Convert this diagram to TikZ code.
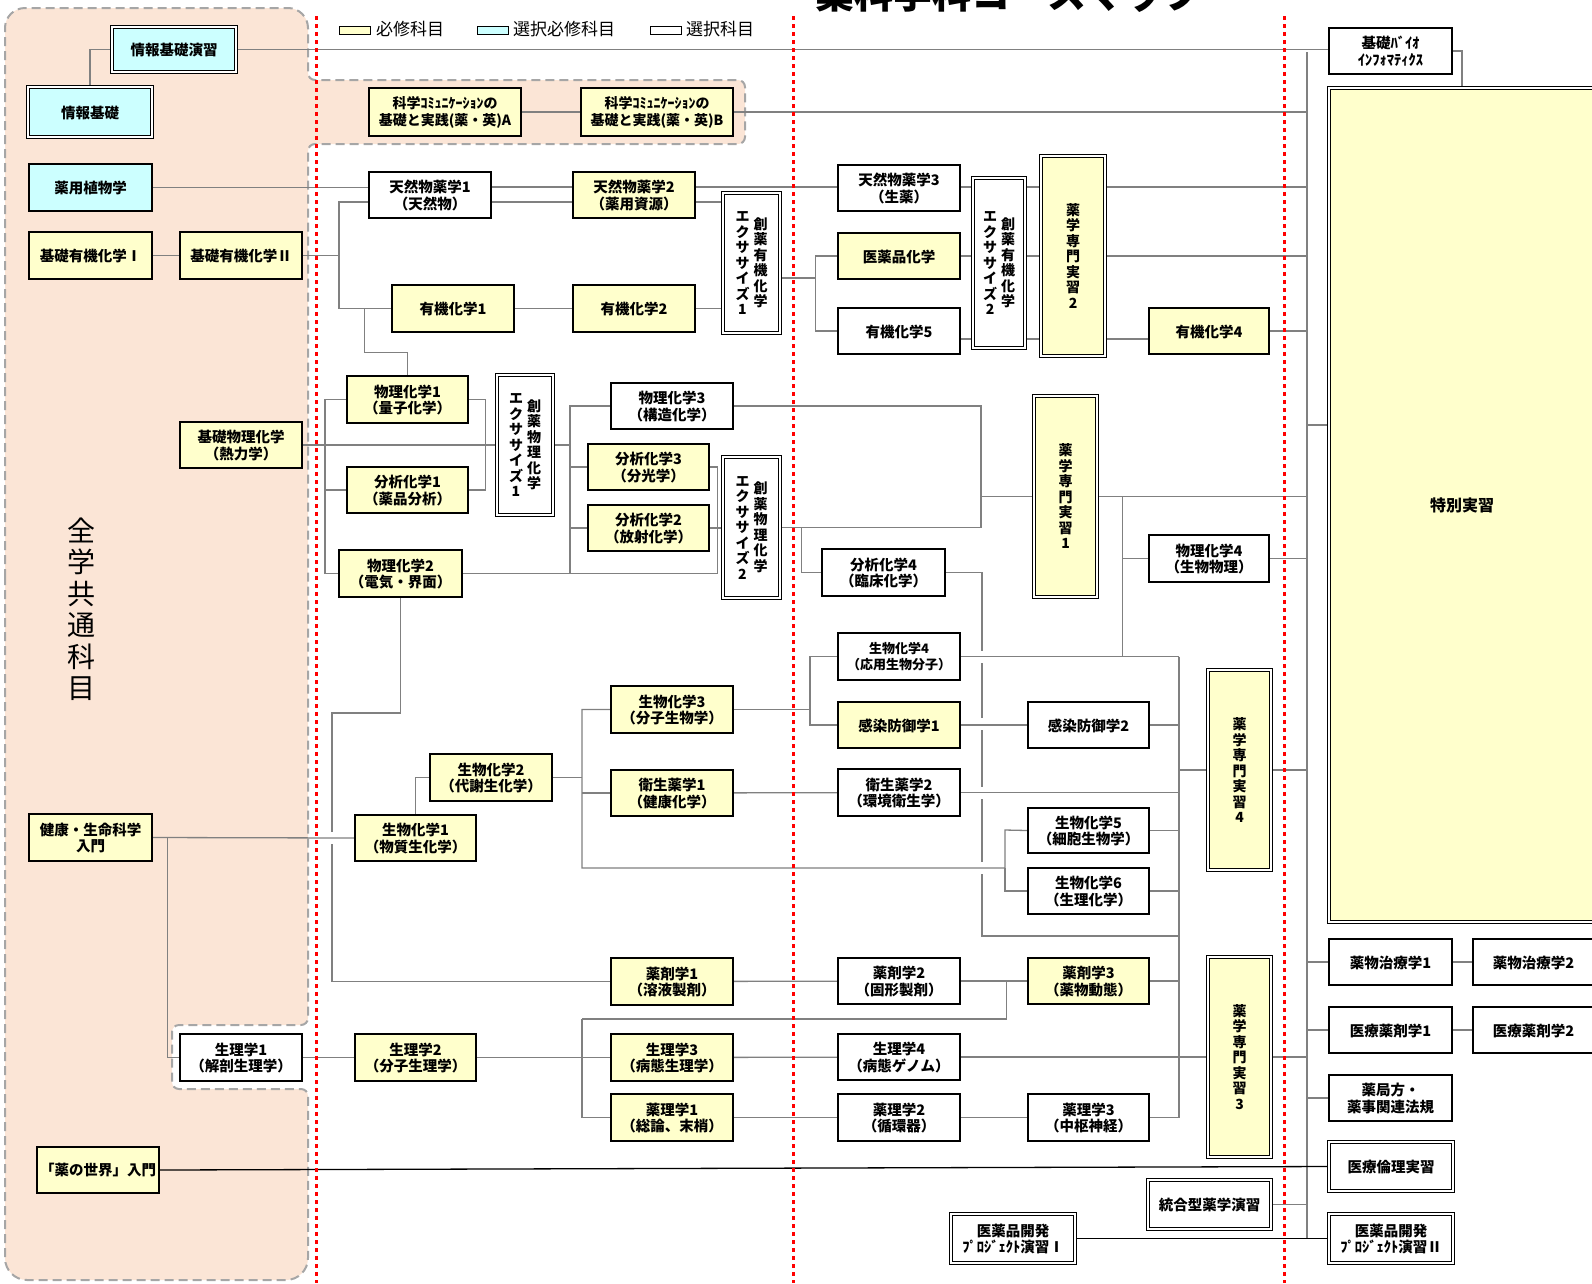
\documentclass[tikz,border=0pt]{standalone}
\usepackage{fontspec}
\setmainfont{Noto Sans CJK JP}
\usetikzlibrary{fit}
\definecolor{reqc}{HTML}{FFFFCC}
\definecolor{selc}{HTML}{CCFFFF}
\definecolor{pinkc}{HTML}{FBE5D6}
\definecolor{lnc}{HTML}{808080}
\definecolor{dashc}{HTML}{A6A6A6}
\definecolor{redc}{HTML}{FF0000}
\pgfdeclarelayer{bg}
\pgfsetlayers{bg,main}
\newcommand\bx[7]{\node[#1,fit={(#3,#4)(#5,#6)}] (#2) {};
  \node[#1,draw=none,fill=none] (#2t) at ([yshift=-0.5pt]#2.center) {#7};}
\begin{document}
\begin{tikzpicture}[x=1pt,y=-1pt,
 bxbase/.style={inner sep=0pt, align=center, font=\bfseries\fontsize{14.5}{16.5}\selectfont},
 sbox/.style={bxbase, draw=black, line width=2.4pt},
 req/.style={sbox, fill=reqc},
 sel/.style={sbox, fill=selc},
 opt/.style={sbox, fill=white},
 dbox/.style={bxbase, draw=black, line width=1.1pt, double=white, double distance=2pt},
 dreq/.style={dbox, fill=reqc},
 dsel/.style={dbox, fill=selc},
 dopt/.style={dbox, fill=white},
 sm/.style={font=\bfseries\fontsize{13}{16}\selectfont},
 vt/.style={inner sep=0pt, align=center, font=\bfseries\fontsize{14}{15.5}\selectfont},
 ln/.style={draw=lnc, line width=1.3pt},
 bk/.style={draw=black, line width=1.3pt},
 reddot/.style={draw=redc, line width=3pt, dash pattern=on 4pt off 4pt},
 legbox/.style={draw=black, line width=0.8pt, minimum width=31pt, minimum height=8pt, inner sep=0pt},
 legtxt/.style={anchor=west, inner sep=0pt, font=\fontsize{17}{17}\selectfont},
]
\useasboundingbox (0,0) rectangle (1592,1283);

% ---------- title and legend ----------
\node[anchor=base west, inner sep=0pt, font=\bfseries\fontsize{39}{39}\selectfont] (title) at (815,8) {薬科学科コースマップ};
\node[legbox, fill=reqc] (lg1) at (354.5,30) {};
\node[legtxt] (lt1) at (376,29) {必修科目};
\node[legbox, fill=selc] (lg2) at (492.5,30) {};
\node[legtxt] (lt2) at (513,29) {選択必修科目};
\node[legbox, fill=white] (lg3) at (665.5,30) {};
\node[legtxt] (lt3) at (686,29) {選択科目};

\node[inner sep=0pt, align=center, font=\fontsize{28}{31.5}\selectfont] (zengaku) at (81,609) {全\\学\\共\\通\\科\\目};

% ---------- boxes ----------
\bx{dsel}{johoen}{112}{27}{236}{72}{情報基礎演習}
\bx{dsel}{joho}{28}{87}{152}{137}{情報基礎}
\bx{opt,font=\bfseries\fontsize{14.5}{16.5}\selectfont}{kiba}{1329}{28}{1452}{74}{基礎ﾊﾞｲｵ\\ｲﾝﾌｫﾏﾃｨｸｽ}
\bx{req,font=\bfseries\fontsize{14}{16.5}\selectfont}{comA}{369}{88}{521}{136}{科学ｺﾐｭﾆｹｰｼｮﾝの\\基礎と実践(薬・英)A}
\bx{req,font=\bfseries\fontsize{14}{16.5}\selectfont}{comB}{581}{88}{733}{136}{科学ｺﾐｭﾆｹｰｼｮﾝの\\基礎と実践(薬・英)B}
\bx{dreq,font=\bfseries\fontsize{16}{18}\selectfont}{special}{1329}{88}{1595}{922}{特別実習}
\bx{sel}{yakuyo}{29}{164}{152}{211}{薬用植物学}
\bx{req}{kyuki1}{29}{232}{152}{279}{基礎有機化学Ⅰ}
\bx{req}{kyuki2}{180}{232}{302}{279}{基礎有機化学Ⅱ}
\bx{opt}{ten1}{369}{172}{491}{218}{天然物薬学1\\（天然物）}
\bx{req}{ten2}{573}{172}{695}{218}{天然物薬学2\\（薬用資源）}
\bx{req}{yuki1}{392}{285}{514}{332}{有機化学1}
\bx{req}{yuki2}{573}{285}{695}{332}{有機化学2}
\bx{dopt}{exo1}{723}{193}{780}{333}{}
\bx{opt}{ten3}{838}{165}{960}{211}{天然物薬学3\\（生薬）}
\bx{req}{iyaku}{838}{233}{960}{279}{医薬品化学}
\bx{opt}{yuki5}{838}{308}{960}{354}{有機化学5}
\bx{dopt}{exo2}{973}{178}{1025}{348}{}
\bx{dreq}{pr2}{1041}{156}{1105}{356}{}
\bx{req}{yuki4}{1149}{308}{1269}{354}{有機化学4}
\bx{req}{butsu1}{347}{376}{468}{423}{物理化学1\\（量子化学）}
\bx{req}{kibutsu}{180}{422}{302}{468}{基礎物理化学\\（熱力学）}
\bx{req}{bun1}{347}{467}{468}{513}{分析化学1\\（薬品分析）}
\bx{dopt}{exp1}{497}{375}{553}{515}{}
\bx{req}{butsu2}{339}{550}{462}{597}{物理化学2\\（電気・界面）}
\bx{opt}{butsu3}{611}{383}{733}{429}{物理化学3\\（構造化学）}
\bx{req}{bun3}{588}{444}{709}{490}{分析化学3\\（分光学）}
\bx{req}{bun2}{588}{505}{709}{551}{分析化学2\\（放射化学）}
\bx{dopt}{exp2}{723}{457}{780}{598}{}
\bx{opt}{bun4}{822}{549}{945}{596}{分析化学4\\（臨床化学）}
\bx{dreq}{pr1}{1034}{396}{1097}{597}{}
\bx{opt}{butsu4}{1149}{535}{1269}{582}{物理化学4\\（生物物理）}
\bx{req}{kenko}{29}{814}{152}{861}{健康・生命科学\\入門}
\bx{req}{sei1}{355}{815}{476}{861}{生物化学1\\（物質生化学）}
\bx{req}{sei2}{430}{754}{552}{801}{生物化学2\\（代謝生化学）}
\bx{req}{sei3}{611}{686}{733}{733}{生物化学3\\（分子生物学）}
\bx{req}{eisei1}{611}{770}{733}{816}{衛生薬学1\\（健康化学）}
\bx{opt,sm}{sei4}{838}{633}{960}{680}{生物化学4\\（応用生物分子）}
\bx{req}{kansen1}{838}{702}{960}{748}{感染防御学1}
\bx{opt}{eisei2}{838}{769}{960}{816}{衛生薬学2\\（環境衛生学）}
\bx{opt}{kansen2}{1028}{702}{1149}{748}{感染防御学2}
\bx{opt}{sei5}{1028}{808}{1149}{853}{生物化学5\\（細胞生物学）}
\bx{opt}{sei6}{1028}{868}{1149}{914}{生物化学6\\（生理化学）}
\bx{dreq}{pr4}{1208}{670}{1271}{870}{}
\bx{req}{yakuzai1}{611}{958}{733}{1005}{薬剤学1\\（溶液製剤）}
\bx{opt}{yakuzai2}{838}{958}{960}{1004}{薬剤学2\\（固形製剤）}
\bx{req}{yakuzai3}{1028}{958}{1149}{1004}{薬剤学3\\（薬物動態）}
\bx{opt}{seiri1}{180}{1034}{302}{1081}{生理学1\\（解剖生理学）}
\bx{req}{seiri2}{355}{1034}{476}{1081}{生理学2\\（分子生理学）}
\bx{req}{seiri3}{611}{1034}{733}{1081}{生理学3\\（病態生理学）}
\bx{opt}{seiri4}{838}{1034}{960}{1080}{生理学4\\（病態ゲノム）}
\bx{req}{yakuri1}{611}{1094}{733}{1141}{薬理学1\\（総論、末梢）}
\bx{opt}{yakuri2}{838}{1094}{960}{1141}{薬理学2\\（循環器）}
\bx{opt}{yakuri3}{1028}{1094}{1149}{1141}{薬理学3\\（中枢神経）}
\bx{dreq}{pr3}{1208}{957}{1271}{1157}{}
\bx{opt}{chiryo1}{1329}{939}{1452}{985}{薬物治療学1}
\bx{opt}{chiryo2}{1473}{939}{1594}{985}{薬物治療学2}
\bx{opt}{iryo1}{1329}{1007}{1452}{1053}{医療薬剤学1}
\bx{opt}{iryo2}{1473}{1007}{1594}{1053}{医療薬剤学2}
\bx{opt}{yakkyoku}{1329}{1075}{1452}{1121}{薬局方・\\薬事関連法規}
\bx{dopt}{rinri}{1329}{1142}{1453}{1191}{医療倫理実習}
\bx{dopt}{togo}{1148}{1180}{1271}{1229}{統合型薬学演習}
\bx{dopt}{dev1}{951}{1214}{1075}{1263}{医薬品開発\\ﾌﾟﾛｼﾞｪｸﾄ演習Ⅰ}
\bx{dopt}{dev2}{1329}{1214}{1453}{1263}{医薬品開発\\ﾌﾟﾛｼﾞｪｸﾄ演習Ⅱ}
\bx{req}{sekai}{37}{1147}{159}{1193}{「薬の世界」入門}

% vertical texts
\node[vt] (exo1r) at ([xshift=9pt]exo1.center) {創\\薬\\有\\機\\化\\学};
\node[vt] (exo1l) at ([xshift=-9pt]exo1.center) {エ\\ク\\サ\\サ\\イ\\ズ\\1};
\node[vt] (exo2r) at ([xshift=9pt]exo2.center) {創\\薬\\有\\機\\化\\学};
\node[vt] (exo2l) at ([xshift=-9pt]exo2.center) {エ\\ク\\サ\\サ\\イ\\ズ\\2};
\node[vt] (exp1r) at ([xshift=9pt]exp1.center) {創\\薬\\物\\理\\化\\学};
\node[vt] (exp1l) at ([xshift=-9pt]exp1.center) {エ\\ク\\サ\\サ\\イ\\ズ\\1};
\node[vt] (exp2r) at ([xshift=9pt]exp2.center) {創\\薬\\物\\理\\化\\学};
\node[vt] (exp2l) at ([xshift=-9pt]exp2.center) {エ\\ク\\サ\\サ\\イ\\ズ\\2};
\node[vt] (pr1v) at (pr1.center) {薬\\学\\専\\門\\実\\習\\1};
\node[vt] (pr2v) at (pr2.center) {薬\\学\\専\\門\\実\\習\\2};
\node[vt] (pr3v) at (pr3.center) {薬\\学\\専\\門\\実\\習\\3};
\node[vt] (pr4v) at (pr4.center) {薬\\学\\専\\門\\実\\習\\4};

% ---------- background: region, connectors, red lines ----------
\begin{pgfonlayer}{bg}
\path[fill=pinkc, draw=dashc, line width=2pt, dash pattern=on 9pt off 5pt, rounded corners=20pt]
 (5,600) -- (5,8) -- (308,8) [rounded corners=7pt] -- (308,80) -- (745,80) -- (745,144) -- (308,144)
 -- (308,1025) -- (172,1025) -- (172,1089) -- (308,1089) [rounded corners=22pt] -- (308,1280) -- (5,1280) -- cycle;

\coordinate (T1) at (1307,52);
\coordinate (T2) at (1307,1238.5);
\coordinate (ya) at (0,187);
\coordinate (yb) at (0,202);
\coordinate (yc) at (0,339);
\coordinate (ysp) at (0,425);
\coordinate (v339) at (339,0);
\coordinate (v325) at (325,0);
\coordinate (v570) at (570,0);
\coordinate (v981) at (981,0);
\coordinate (v582) at (582,0);
\coordinate (v810) at (810,0);
\coordinate (v1179) at (1179,0);
\coordinate (y1019) at (0,1019);
\coordinate (y868) at (0,868);
\coordinate (y713) at (0,713);

\draw[ln] (T1) -- (T2);
% information
\draw[ln] (joho.north) |- (johoen.west);
\draw[ln] (johoen.east) -- (johoen.east -| kiba.west);
\draw[ln] (kiba.east) -| (special.north);
\draw[ln] (comA) -- (comB);
\draw[ln] (comB.east) -- (comB.east -| T1);
% organic / natural products
\draw[ln] (yakuyo.east) -- (yakuyo.east -| ten1.west);
\draw[ln] (ten1.east |- ya) -- (ten2.west |- ya);
\draw[ln] (ten1.east |- yb) -- (ten2.west |- yb);
\draw[ln] (ten2.east |- ya) -- (ten3.west |- ya);
\draw[ln] (ten2.east |- yb) -- (exo1.west |- yb);
\draw[ln] (kyuki1) -- (kyuki2);
\draw[ln] (kyuki2.east) -- (kyuki2.east -| v339);
\draw[ln] (ten1.west |- yb) -| (v339 |- yuki1.west) -- (yuki1.west);
\draw[ln] (yuki1) -- (yuki2);
\draw[ln] (yuki2.east) -- (yuki2.east -| exo1.west);
\draw[ln] ([xshift=-26pt]yuki1.west) -- ++(0,44) -| (butsu1.north);
\draw[ln] ([yshift=-15pt]exo1.east) -- ++(35,0) coordinate (jo);
\draw[ln] (iyaku.west) -| (jo);
\draw[ln] (yuki5.west) -| (jo);
\draw[ln] (ten3.east |- ya) -- (exo2.west |- ya);
\draw[ln] (iyaku.east) -- (iyaku.east -| exo2.west);
\draw[ln] (yuki5.east |- yc) -- (exo2.west |- yc);
\draw[ln] (exo2.east |- ya) -- (pr2.west |- ya);
\draw[ln] (exo2.east |- iyaku) -- (pr2.west |- iyaku);
\draw[ln] (exo2.east |- yc) -- (pr2.west |- yc);
\draw[ln] (pr2.east |- ya) -- (T1 |- ya);
\draw[ln] (pr2.east |- iyaku) -- (T1 |- iyaku);
\draw[ln] (pr2.east |- yc) -- (yuki4.west |- yc);
\draw[ln] (yuki4.east) -- (yuki4.east -| T1);
\draw[ln] (T1 |- ysp) -- (special.west |- ysp);
% physical / analytical
\draw[ln] (butsu1.west) -| (v325 |- butsu2.west) -- (butsu2.west);
\draw[ln] (bun1.west) -- (bun1.west -| v325);
\draw[ln] (kibutsu) -- (exp1);
\draw[ln] (butsu1.east) -- ++(16,0) |- (bun1.east);
\draw[ln] (exp1.east) -- (exp1.east -| v570);
\draw[ln] (butsu3.west) -| (v570 |- butsu2.east);
\draw[ln] (bun3.west) -- (bun3.west -| v570);
\draw[ln] (bun2.west) -- (bun2.west -| v570);
\draw[ln] (butsu2.east) -| ([xshift=7pt]bun3.east) -- (bun3.east);
\draw[ln] (bun2.east) -- (bun2.east -| exp2.west);
\draw[ln] (exp2.east) -- (exp2.east -| v981);
\draw[ln] (butsu3.east) -| (v981 |- exp2.east);
\draw[ln] (v981 |- pr1.west) -- (pr1.west);
\draw[ln] ([xshift=21pt]exp2.east) |- (bun4.west);
\draw[ln] (bun4.east) -| (982,651);
\draw[ln] (982,663) -- (982,718);
\draw[ln] (982,730) -- (982,787);
\draw[ln] (982,799) -- (982,862);
\draw[ln] (982,874) |- (v1179 |- 0,936);
\draw[ln] (pr1.east) -- (pr1.east -| T1);
\draw[ln] ([xshift=25pt]pr1.east) -- ([xshift=25pt]pr1.east |- sei4.east);
\draw[ln] ([xshift=25pt]pr1.east |- butsu4.west) -- (butsu4.west);
\draw[ln] (butsu4.east) -- (butsu4.east -| T1);
\draw[ln] (pr4.east) -- (pr4.east -| T1);
% biology
\draw[ln] (kenko.east) -- (sei1.west);
\draw[ln] ([xshift=14pt]kenko.east) |- (seiri1.west);
\draw[ln] (sei1.north) |- (sei2.west);
\draw[ln] (sei2.east) -- (sei2.east -| v582);
\draw[ln] (sei3.west) -| (v582 |- y868) -- (1005,868) -- (1005,830) -- (sei5.west);
\draw[ln] (1005,868) |- (sei6.west);
\draw[ln] (eisei1.west) -- (eisei1.west -| v582);
\draw[ln] (sei3.east) -- (sei3.east -| v810);
\draw[ln] (sei4.west) -| (v810 |- kansen1.west) -- (kansen1.west);
\draw[ln] (sei4.east) -- (sei4.east -| v1179);
\draw[ln] (kansen1) -- (kansen2);
\draw[ln] (kansen2.east) -- (kansen2.east -| v1179);
\draw[ln] (eisei1) -- (eisei2);
\draw[ln] (eisei2.east) -- (eisei2.east -| v1179);
\draw[ln] (sei5.east) -- (sei5.east -| v1179);
\draw[ln] (sei6.east) -- (sei6.east -| v1179);
\draw[ln] (v1179 |- sei4.east) -- (v1179 |- yakuri3.east);
\draw[ln] (v1179 |- pr4.west) -- (pr4.west);
% pharmaceutics
\draw[ln] (butsu2.south) -- (butsu2.south |- y713) -| (332,832);
\draw[ln] (332,844) |- (yakuzai1.west);
\draw[ln] (yakuzai1) -- (yakuzai2);
\draw[ln] (yakuzai2) -- (yakuzai3);
\draw[ln] (yakuzai3.east) -- (yakuzai3.east -| v1179);
% physiology / pharmacology
\draw[ln] (seiri1) -- (seiri2);
\draw[ln] (seiri2) -- (seiri3);
\draw[ln] (v582 |- y1019) -- (v582 |- yakuri1.west) -- (yakuri1.west);
\draw[ln] (v582 |- y1019) -| ([xshift=45pt]yakuzai2.east);
\draw[ln] (seiri3) -- (seiri4);
\draw[ln] (seiri4.east) -- (pr3.west);
\draw[ln] (yakuri1) -- (yakuri2);
\draw[ln] (yakuri2) -- (yakuri3);
\draw[ln] (yakuri3.east) -- (yakuri3.east -| v1179);
\draw[ln] (pr3.east) -- (pr3.east -| T1);
% right column
\draw[ln] (chiryo1.west -| T1) -- (chiryo1.west);
\draw[ln] (chiryo1) -- (chiryo2);
\draw[ln] (iryo1.west -| T1) -- (iryo1.west);
\draw[ln] (iryo1) -- (iryo2);
\draw[ln] (yakkyoku.west -| T1) -- (yakkyoku.west);
\draw[ln] (rinri.west -| T1) -- (rinri.west);
\draw[bk] (sekai.east) -- (rinri.west);
\draw[ln] (togo.east) -- (togo.east -| T1);
\draw[bk] (dev1) -- (dev2);

% red dotted lines
\draw[reddot] (316,16) -- (316,1283);
\draw[reddot] (793,16) -- (793,1283);
\draw[reddot] (1284,16) -- (1284,1283);
\end{pgfonlayer}
\end{tikzpicture}
\end{document}
